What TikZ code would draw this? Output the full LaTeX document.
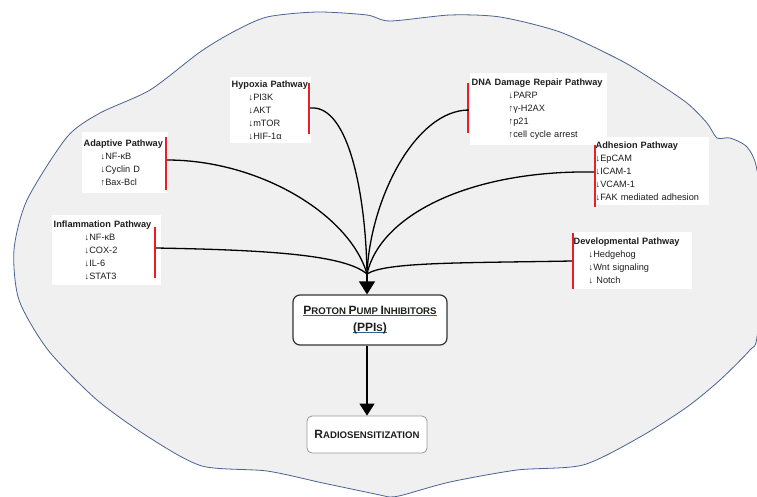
\documentclass[tikz,border=0pt]{standalone}
\usepackage{fontspec}
\setmainfont{Liberation Sans}
\usetikzlibrary{arrows.meta}
\definecolor{blobfill}{HTML}{F0F0F0}
\definecolor{blobline}{HTML}{4A6391}
\definecolor{barred}{HTML}{EE1C25}
\definecolor{ulblue}{HTML}{2F5F8F}
\definecolor{txt}{HTML}{1E1E1E}
\newcommand\ppiul[1]{\setbox0\hbox{#1}\leavevmode\rlap{\color{ulblue}\raisebox{-1.6pt}{\rule{\wd0}{0.8pt}}}\box0}
\newcommand\bigL[1]{{\fontsize{12}{14}\selectfont #1}}
\newcommand\ind[1]{\hspace*{#1pt}}
\begin{document}
\begin{tikzpicture}[x=1pt,y=-1pt,
  pbox/.style={fill=white, anchor=north west, inner xsep=1.5pt, inner ysep=0pt, align=left,
     font=\fontsize{9.2}{12.9}\selectfont, text=txt},
  rbar/.style={draw=barred, line width=2.2pt},
  conn/.style={draw=black, line width=1.3pt},
  bigarrow/.style={draw=black, line width=1.2pt, -{Triangle[length=13pt,width=16pt]}},
  mainbox/.style={draw=black!80, line width=1.2pt, rounded corners=7pt, fill=white, align=center, text=txt}
]
\useasboundingbox (0,0) rectangle (757,496);
\clip (0,0) rectangle (757,496);
% blob
\draw[blobline, line width=0.8pt, fill=blobfill] plot[smooth cycle, tension=0.45] coordinates {
 (67,137) (100,113) (150,90) (200,52) (233,32) (267,17) (317,12) (367,15) (390,21) (450,15)
 (500,17) (560,32) (620,60) (653,80) (687,103) (707,123) (717,138) (730,138) (747,147) (757,170)
 (765,250) (757,337) (750,350) (720,380) (687,407) (640,437) (583,465) (517,470) (450,482) (403,495)
 (390,497) (380,495) (323,483) (267,471) (202,466) (150,438) (97,400) (48,350) (19,300) (14,250) (27,200)};

% pathway boxes
\node[pbox, text width=78pt, minimum height=66pt] (hyp) at (230,77)
 {\textbf{Hypoxia Pathway}\\\ind{17}↓PI3K\\\ind{17}↓AKT\\\ind{17}↓mTOR\\\ind{17}↓HIF-1α};
\node[pbox, text width=134pt, minimum height=72pt] (dna) at (470,73)
 {\textbf{DNA Damage Repair Pathway}\\\ind{37}↓PARP\\\ind{37}↑γ-H2AX\\\ind{37}↑p21\\\ind{37}↑cell cycle arrest};
\node[pbox, text width=83pt, minimum height=61pt] (ada) at (82,132)
 {\textbf{Adaptive Pathway}\\\ind{17}↓NF-κB\\\ind{17}↓Cyclin D\\\ind{17}↑Bax-Bcl};
\node[pbox, text width=112pt, minimum height=68pt] (adh) at (594,137)
 {\textbf{Adhesion Pathway}\\↓EpCAM\\↓ICAM-1\\↓VCAM-1\\↓FAK mediated adhesion};
\node[pbox, text width=106pt, minimum height=70pt] (inf) at (52,215)
 {\textbf{Inflammation Pathway}\\\ind{31}↓NF-κB\\\ind{31}↓COX-2\\\ind{31}↓IL-6\\\ind{31}↓STAT3};
\node[pbox, text width=117pt, minimum height=57pt] (dev) at (572,232)
 {\textbf{Developmental Pathway}\\\ind{15}↓Hedgehog\\\ind{15}↓Wnt signaling\\\ind{15}↓ Notch};

% red bars
\draw[rbar] (309,83) -- (309,134);
\draw[rbar] (468,83) -- (468,133);
\draw[rbar] (166,137) -- (166,190);
\draw[rbar] (595,145) -- (595,207);
\draw[rbar] (155,227) -- (155,278);
\draw[rbar] (573,233) -- (573,289);

% connector anchors
\coordinate (hypc) at (310,108);
\coordinate (dnac) at (469,110);
\coordinate (adac) at (167,160);
\coordinate (adhc) at (594,172);
\coordinate (infc) at (156,248);
\coordinate (devc) at (572,261);
\coordinate (conv) at (367,274);

% main boxes
\node[mainbox, minimum width=154pt, minimum height=50pt, font=\bfseries\fontsize{9.6}{17}\selectfont] (ppi) at (370,320)
 {\ppiul{\bigL{P}ROTON \bigL{P}UMP \bigL{I}NHIBITORS}\\\ppiul{\bigL{(PPI}S\bigL{)}}};
\node[mainbox, draw=black!40, line width=0.8pt, rounded corners=5pt, minimum width=120pt, minimum height=37pt,
  font=\bfseries\fontsize{9.6}{12}\selectfont] (rad) at (367,434.5)
 {\bigL{R}ADIOSENSITIZATION};

% connectors
\draw[conn] (hypc) .. controls (350,104) and (366,200) .. (conv);
\draw[conn] (dnac) .. controls (415,110) and (370,200) .. (conv);
\draw[conn] (adac) .. controls (260,160) and (350,215) .. (conv);
\draw[conn] (adhc) .. controls (470,170) and (380,215) .. (conv);
\draw[conn] (infc) .. controls (270,250) and (345,255) .. (conv);
\draw[conn] (devc) .. controls (460,263) and (385,262) .. (conv);

\draw[bigarrow] (conv) -- (ppi.north -| conv);
\draw[bigarrow, -{Triangle[length=12pt,width=15pt]}] (ppi.south -| conv) -- (rad.north -| conv);
\end{tikzpicture}
\end{document}
